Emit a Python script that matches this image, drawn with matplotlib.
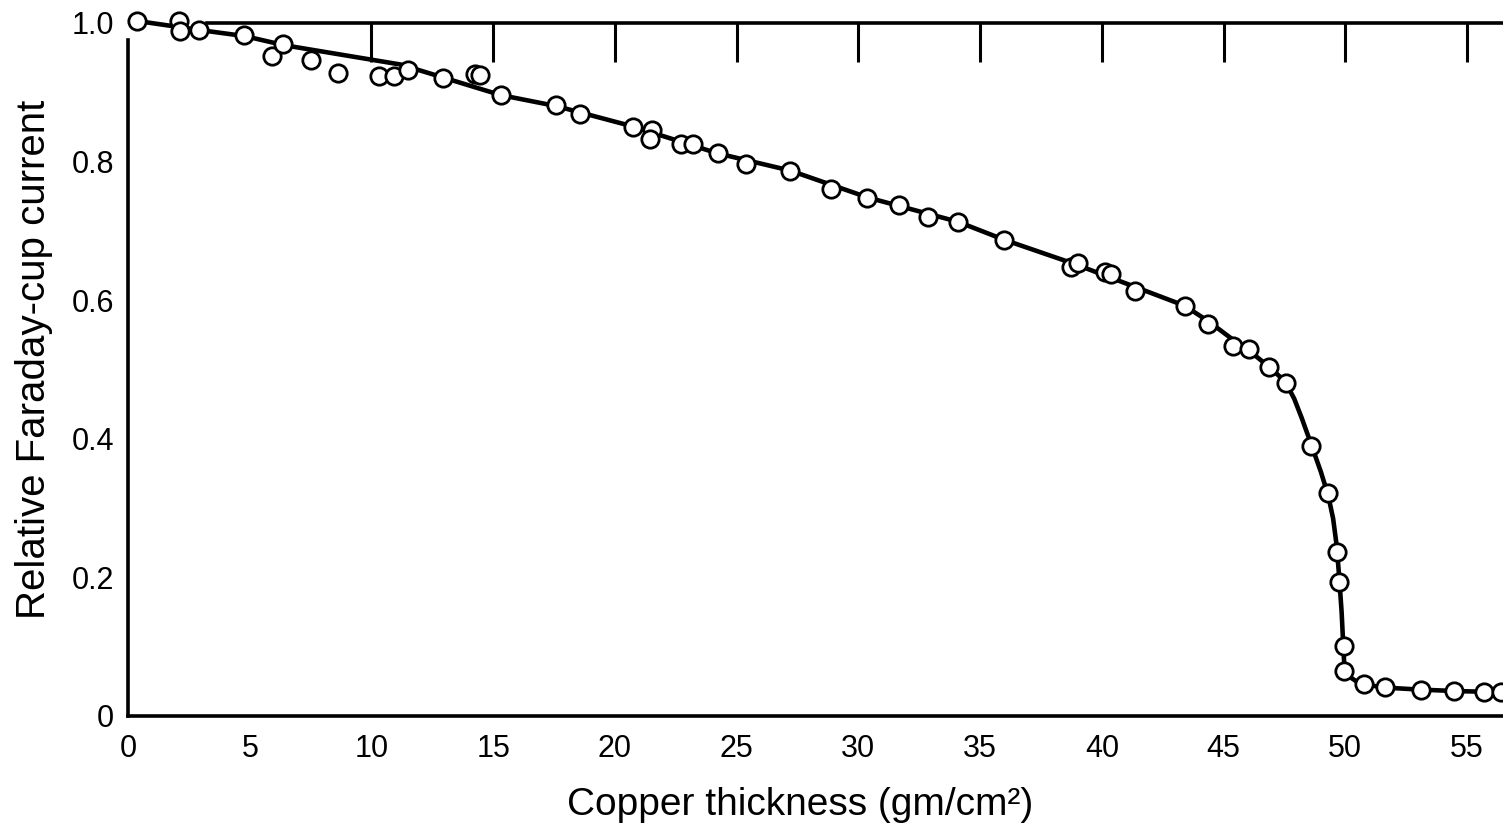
import numpy as np
import matplotlib
matplotlib.use("Agg")
import matplotlib.pyplot as plt

plt.rcParams['font.family'] = ['Liberation Sans', 'DejaVu Sans']

# measured points: copper thickness (gm/cm2) vs relative Faraday-cup current
thick = [0.35, 2.09, 2.14, 2.93, 4.76, 5.90, 6.38, 7.51, 8.64, 10.32,
         10.93, 11.48, 12.94, 14.24, 14.45, 15.34, 17.56, 18.58, 20.74, 21.52,
         21.43, 22.73, 23.21, 24.23, 25.40, 27.18, 28.89, 30.36, 31.65, 32.88,
         34.09, 35.97, 38.74, 39.01, 40.15, 40.38, 41.37, 43.43, 44.35, 45.40,
         46.03, 46.88, 47.57, 48.59, 49.31, 49.68, 49.75, 49.93, 49.96, 50.78,
         51.64, 53.13, 54.47, 55.70, 56.39]
current = [1.003, 1.003, 0.989, 0.990, 0.982, 0.953, 0.969, 0.947, 0.928, 0.923,
           0.924, 0.932, 0.920, 0.926, 0.925, 0.896, 0.881, 0.869, 0.850, 0.845,
           0.833, 0.826, 0.825, 0.812, 0.796, 0.787, 0.761, 0.748, 0.738, 0.720,
           0.713, 0.687, 0.648, 0.653, 0.641, 0.638, 0.613, 0.592, 0.566, 0.534,
           0.530, 0.504, 0.480, 0.389, 0.322, 0.236, 0.194, 0.1015, 0.065, 0.046,
           0.042, 0.0375, 0.036, 0.034, 0.034]

# hand-drawn curve through the data
curve_x = [0.35, 2.9, 4.8, 6.4, 11.2, 15.3, 17.6, 20.7, 24.2, 27.2,
           30.4, 34.1, 36.0, 38.9, 41.0, 43.4, 44.4, 45.5, 46.3,
           46.9, 47.3, 47.6, 47.9, 48.2, 48.6, 49.0, 49.3, 49.5, 49.65,
           49.75, 49.85, 49.92, 49.97, 50.2, 50.5, 50.9, 51.6, 53.1, 54.5, 56.8]
curve_y = [1.003, 0.990, 0.981, 0.968, 0.940, 0.896, 0.880, 0.851, 0.812, 0.787,
           0.748, 0.713, 0.687, 0.652, 0.624, 0.592, 0.569, 0.540, 0.520,
           0.503, 0.490, 0.478, 0.458, 0.431, 0.392, 0.352, 0.318, 0.285, 0.245,
           0.200, 0.150, 0.100, 0.066, 0.056, 0.049, 0.045, 0.041, 0.038, 0.036, 0.034]

xlabels = [0, 5, 10, 15, 20, 25, 30, 35, 40, 45, 50, 55]
ylabels = [0, 0.2, 0.4, 0.6, 0.8, 1.0]
ylabel_text = ['0', '0.2', '0.4', '0.6', '0.8', '1.0']

fig = plt.figure(figsize=(15.03, 8.26), dpi=100)
ax = fig.add_axes([0.0852, 0.1332, 0.920, 0.839])

ax.plot(curve_x, curve_y, color='black', lw=3.3, solid_capstyle='round',
        solid_joinstyle='round', clip_on=False, zorder=2)
ax.plot(thick, current, 'o', ms=12.5, mfc='white', mec='black', mew=2.0,
        clip_on=False, zorder=3)

ax.set_xlim(0, 56.8)
ax.set_ylim(0, 1.0)

for s in ax.spines.values():
    s.set_linewidth(2.6)
ax.spines['right'].set_visible(False)
ax.spines['left'].set_bounds(0, 0.976)
ax.spines['top'].set_bounds(3.24, 56.8)

# labels without tick marks, marks on the minor locator
ax.set_xticks(xlabels)
ax.set_xticklabels([str(v) for v in xlabels])
ax.set_yticks(ylabels)
ax.set_yticklabels(ylabel_text)
ax.tick_params(axis='both', which='major', length=0, labelsize=22)
ax.tick_params(axis='x', which='major', pad=13)
ax.tick_params(axis='y', which='major', pad=10)

ax.set_xticks([5, 10, 15, 20, 25, 30, 35, 40, 45, 50, 55], minor=True)
ax.set_yticks([0.2, 0.4, 0.6, 0.8], minor=True)
ax.tick_params(axis='x', which='minor', direction='in', length=23, width=2,
               bottom=True, top=False)
ax.tick_params(axis='y', which='minor', direction='in', length=29, width=2,
               left=True, right=True)

# top ticks start at 10
top = ax.secondary_xaxis('top')
top.set_xticks([10, 15, 20, 25, 30, 35, 40, 45, 50, 55])
top.tick_params(direction='in', length=28, width=2.2, labeltop=False)
top.spines['top'].set_visible(False)

ax.set_xlabel('Copper thickness (gm/cm²)', fontsize=28)
ax.set_ylabel('Relative Faraday-cup current', fontsize=29)
ax.xaxis.set_label_coords(0.486, -0.103)
ax.yaxis.set_label_coords(-0.054, 0.515)

fig.savefig('out.png', dpi=100)
